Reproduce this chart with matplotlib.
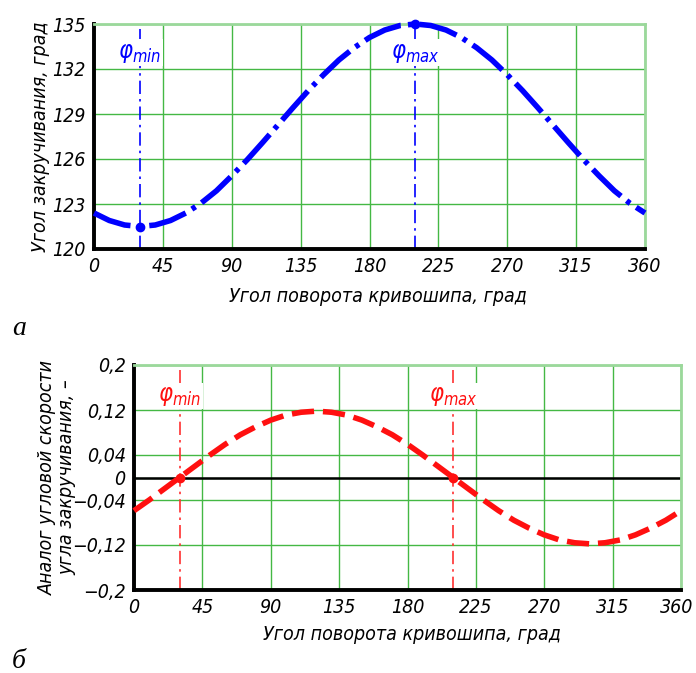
import matplotlib
matplotlib.use("Agg")
import matplotlib.pyplot as plt
import matplotlib.transforms as mtransforms

# ---- data ----
angle = [0, 10, 20, 30, 40, 50, 60, 70, 80, 90, 100, 110, 120, 130, 140, 150, 160, 170, 180,
         190, 200, 210, 220, 230, 240, 250, 260, 270, 280, 290, 300, 310, 320, 330, 340, 350, 360]
twist = [122.40, 121.90, 121.60, 121.50, 121.60, 121.90, 122.40, 123.06, 123.88, 124.88, 125.94,
         127.08, 128.25, 129.42, 130.56, 131.62, 132.60, 133.42, 134.10, 134.60, 134.90, 135.00,
         134.90, 134.60, 134.10, 133.42, 132.60, 131.62, 130.56, 129.42, 128.25, 127.08, 125.94,
         124.88, 123.88, 123.06, 122.40]
speed = [-0.059, -0.040, -0.020, 0.000, 0.020, 0.040, 0.059, 0.076, 0.090, 0.102, 0.111, 0.116,
         0.118, 0.116, 0.111, 0.102, 0.090, 0.076, 0.059, 0.040, 0.020, 0.000, -0.020, -0.040,
         -0.059, -0.076, -0.090, -0.102, -0.111, -0.116, -0.118, -0.116, -0.111, -0.102, -0.090,
         -0.076, -0.059]
phi_min = 30
phi_max = 210
twist_min = 121.5
twist_max = 135.0

x_ticks = [0, 45, 90, 135, 180, 225, 270, 315, 360]
top_yticks = [120, 123, 126, 129, 132, 135]
bot_yticks = [-0.2, -0.12, -0.04, 0, 0.04, 0.12, 0.2]
bot_ylabels = ["\u22120,2", "\u22120,12", "\u22120,04", "0", "0,04", "0,12", "0,2"]

xlabel = "Угол поворота кривошипа, град"
top_ylabel = "Угол закручивания, град"
bot_ylabel = "Аналог угловой скорости\nугла закручивания, \u2013"

# ---- fonts ----
plt.rcParams['font.family'] = ['DejaVu Sans']
plt.rcParams['font.style'] = 'italic'
plt.rcParams['font.stretch'] = 'condensed'
plt.rcParams['mathtext.fontset'] = 'dejavusans'

fig = plt.figure(figsize=(6.96, 6.73), dpi=100)

grid_c = '#44b844'
light_c = '#9bd89b'
TK = 14
LB = 14


def style(ax, yticks, ylabels):
    ax.set_xlim(0, 360)
    ax.set_xticks(x_ticks)
    ax.set_xticklabels([str(t) for t in x_ticks], fontsize=TK, style='italic', stretch='condensed')
    ax.set_yticks(yticks)
    ax.set_yticklabels(ylabels, fontsize=TK, style='italic', stretch='condensed')
    ax.tick_params(length=0, pad=6)
    ax.grid(True, color=grid_c, lw=1.0)
    for s in ['left', 'bottom']:
        ax.spines[s].set_color('black')
        ax.spines[s].set_linewidth(2.8)
    for s in ['top', 'right']:
        ax.spines[s].set_color(light_c)
        ax.spines[s].set_linewidth(2.0)
    ax.set_axisbelow(True)


dashdot = (0, (8, 3, 1.5, 3))

# ---- top chart ----
ax1 = fig.add_axes([94/696, 1-249/673, 551/696, 225/673])
ax1.set_ylim(120, 135)
style(ax1, top_yticks, [str(t) for t in top_yticks])
ax1.axvline(phi_min, color='blue', lw=1.2, ls=dashdot, zorder=2)
ax1.axvline(phi_max, color='blue', lw=1.2, ls=dashdot, zorder=2)
ax1.plot(angle, twist, color='blue', lw=4, ls=(0, (7, 1.3, 0.8, 1.3)), zorder=3, clip_on=False)
ax1.plot([phi_min, phi_max], [twist_min, twist_max], 'o', color='blue', ms=6, zorder=4, clip_on=False)
ax1.text(phi_min, 133.1, r'$\varphi_{min}$', color='blue', fontsize=17, ha='center', va='center',
         bbox=dict(fc='white', ec='none', pad=1), zorder=3)
ax1.text(phi_max, 133.1, r'$\varphi_{max}$', color='blue', fontsize=17, ha='center', va='center',
         bbox=dict(fc='white', ec='none', pad=1), zorder=3)
ax1.set_xlabel(xlabel, fontsize=LB, style='italic', stretch='condensed', va='center')
ax1.xaxis.set_label_coords(0.515, -0.213)
ax1.set_ylabel(top_ylabel, fontsize=LB, style='italic', stretch='condensed', va='center')
ax1.yaxis.set_label_coords(-0.098, 0.5)

# ---- bottom chart ----
ax2 = fig.add_axes([134/696, 1-590/673, 547/696, 225/673])
ax2.set_ylim(-0.2, 0.2)
style(ax2, bot_yticks, bot_ylabels)
ax2.axhline(0, color='black', lw=1.8, zorder=2)
ax2.axvline(phi_min, color='#ff3030', lw=1.2, ls=dashdot, zorder=2)
ax2.axvline(phi_max, color='#ff3030', lw=1.2, ls=dashdot, zorder=2)
ax2.plot(angle, speed, color='#ff1010', lw=4, ls=(0, (4, 1.6)), zorder=3, clip_on=False)
ax2.plot([phi_min, phi_max], [0, 0], 'o', color='#ff1010', ms=6, zorder=4)
ax2.text(phi_min, 0.145, r'$\varphi_{min}$', color='#ff1010', fontsize=17, ha='center', va='center',
         bbox=dict(fc='white', ec='none', pad=1), zorder=3)
ax2.text(phi_max, 0.145, r'$\varphi_{max}$', color='#ff1010', fontsize=17, ha='center', va='center',
         bbox=dict(fc='white', ec='none', pad=1), zorder=3)
ax2.set_xlabel(xlabel, fontsize=LB, style='italic', stretch='condensed', va='center')
ax2.xaxis.set_label_coords(0.508, -0.2)
ax2.set_ylabel(bot_ylabel, fontsize=LB, style='italic', stretch='condensed', linespacing=1.0,
               va='center')
ax2.yaxis.set_label_coords(-0.14, 0.5)

# keep the last tick label of the lower chart inside the figure
last = ax2.get_xticklabels()[-1]
last.set_transform(last.get_transform() +
                   mtransforms.ScaledTranslation(-4/100, 0, fig.dpi_scale_trans))

# panel letters
fig.text(12/696, 1-328/673, 'а', fontsize=20, family='Liberation Serif', style='italic',
         stretch='normal', va='center')
fig.text(12/696, 1-662/673, 'б', fontsize=20, family='Liberation Serif', style='italic',
         stretch='normal', va='center')

fig.savefig('out.png', dpi=100)
